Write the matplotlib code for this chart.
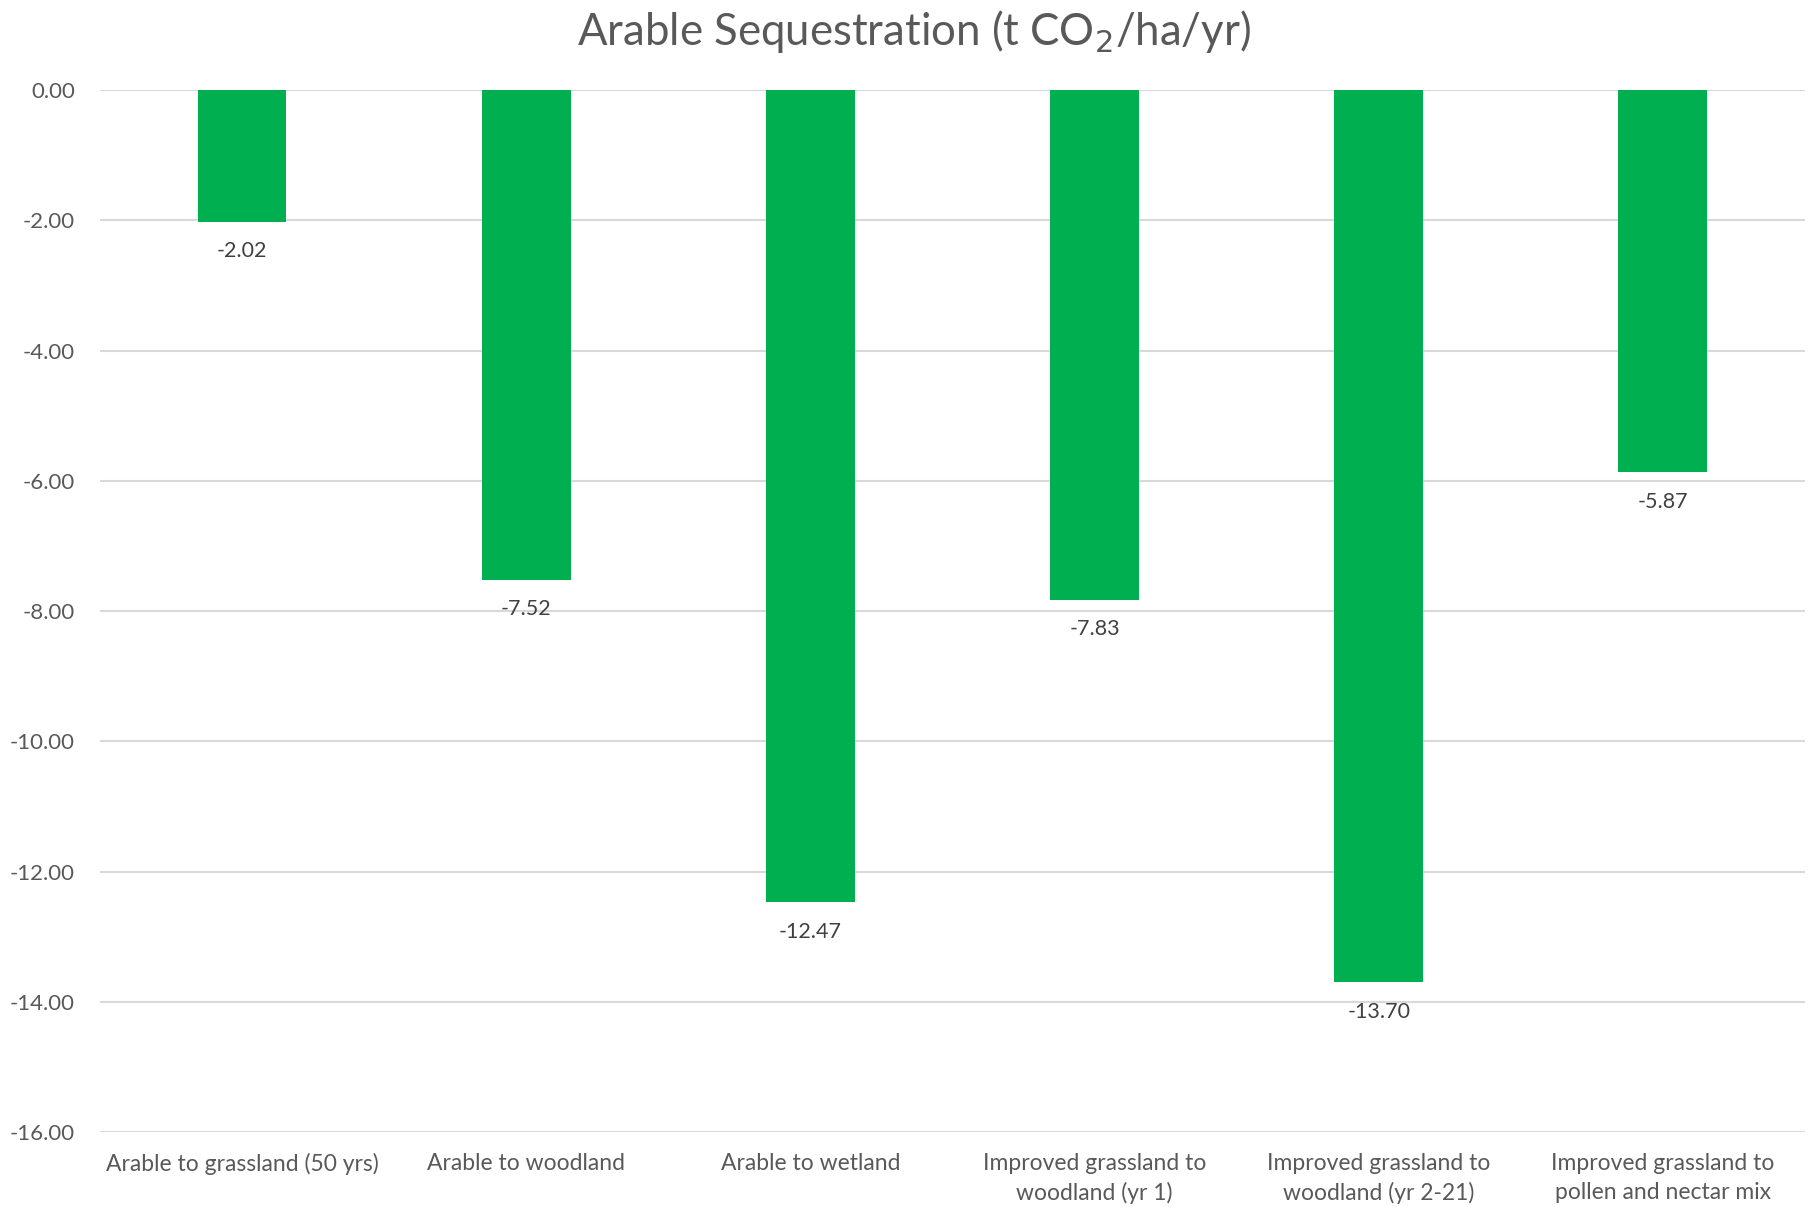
import matplotlib
matplotlib.use("Agg")
import matplotlib.pyplot as plt

# Sequestration per land-use change (t CO2/ha/yr)
categories = [
    "Arable to grassland (50 yrs)",
    "Arable to woodland",
    "Arable to wetland",
    "Improved grassland to\nwoodland (yr 1)",
    "Improved grassland to\nwoodland (yr 2-21)",
    "Improved grassland to\npollen and nectar mix",
]
values = [-2.02, -7.52, -12.47, -7.83, -13.70, -5.87]
y_ticks = [0, -2, -4, -6, -8, -10, -12, -14, -16]

plt.rcParams['font.family'] = ['Lato', 'DejaVu Sans']

fig = plt.figure(figsize=(18.17, 12.07), dpi=100)
ax = fig.add_axes([0.055, 0.0621, 0.9384, 0.8633])

x = range(len(categories))
bars = ax.bar(x, values, width=0.313, color='#00B050', zorder=3)

for xi, v in zip(x, values):
    ax.annotate(f"{v:.2f}", (xi, v), xytext=(0, -14), textcoords='offset points',
                ha='center', va='top', fontsize=15.5, color='#404040')

ax.set_xlim(-0.5, len(categories) - 0.5)
ax.set_ylim(-16, 0)
ax.set_yticks(y_ticks)
ax.set_yticklabels([f"{t:.2f}" for t in y_ticks], fontsize=16)
ax.set_xticks(list(x))
ax.set_xticklabels(categories, fontsize=16.5, linespacing=1.45)

ax.grid(axis='y', color='#D9D9D9', linewidth=1.5, zorder=0)
for s in ax.spines.values():
    s.set_visible(False)
ax.tick_params(axis='both', length=0, colors='#595959')
ax.tick_params(axis='x', pad=15)
ax.tick_params(axis='y', pad=18)

fig.suptitle("Arable Sequestration (t CO$_2$/ha/yr)", x=0.503, y=0.993, va='top',
             fontsize=31.5, color='#595959')

fig.savefig("out.png", dpi=100)
